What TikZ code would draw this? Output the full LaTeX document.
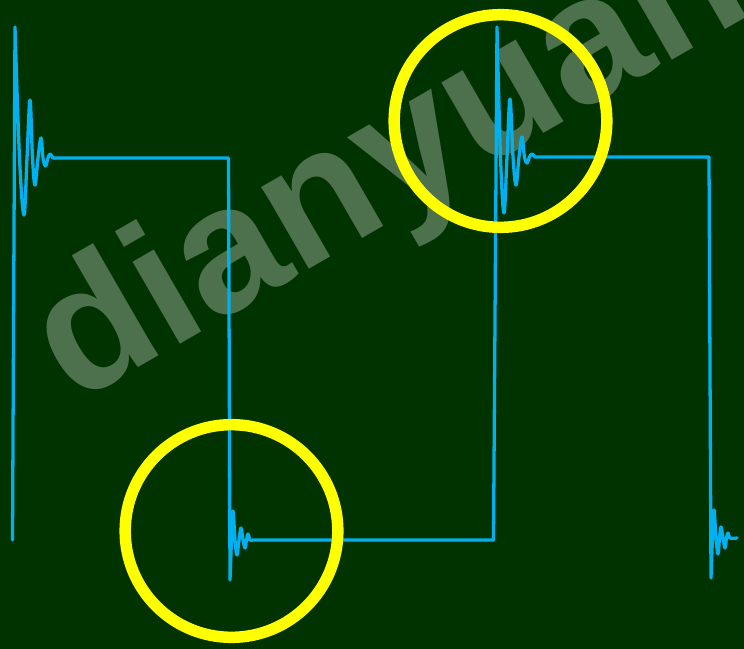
\documentclass[tikz,border=0pt]{standalone}
\usepackage{fontspec}
\setsansfont{Liberation Sans}
\usetikzlibrary{positioning}
\definecolor{bggreen}{RGB}{0,51,0}
\definecolor{scopecyan}{RGB}{0,176,240}
\definecolor{ringyellow}{RGB}{255,255,0}

\begin{document}
\begin{tikzpicture}[x=0.03cm, y=-0.03cm,
    wave/.style={draw=scopecyan, line width=2.8pt, line join=round, line cap=round},
    hilite/.style={draw=ringyellow, line width=9.8pt},
    watermark/.style={text=white, opacity=0.3, inner sep=0pt, rotate=30,
                      font=\sffamily\bfseries\fontsize{153}{153}\selectfont}
  ]
  % Background
  \useasboundingbox (0,0) rectangle (744,649);
  \clip (0,0) rectangle (744,649);
  \fill[bggreen] (0,0) rectangle (744,649);

  % Watermark
  \node[watermark] (wm) at (392,168) {dianyuan};

  % Corners of the square wave
  \coordinate (start) at (12.5,540);
  \coordinate (rise1) at (15,27);
  \coordinate (top1)  at (228.5,158);
  \coordinate (fall1) at (230,580);
  \coordinate (low1)  at (493.5,540);
  \coordinate (rise2) at (497,27);
  \coordinate (top2)  at (709,157);
  \coordinate (fall2) at (711,578);

  % Square wave with ringing on every edge
  \draw[wave] (start) -- (rise1)
    -- plot[smooth, tension=0.6] coordinates {(15,27) (19.5,158) (24,215) (27,158) (30,100)
       (32.5,158) (35,185) (38,158) (41,138) (43,158) (45.5,166) (48,158) (50,154) (53,158)}
    -- (top1) -- (fall1)
    -- plot[smooth, tension=0.6] coordinates {(230,580) (231.5,540) (233,511) (235,540) (237,555)
       (239,540) (241,528) (243,540) (245,548) (246.5,540) (248,534) (250,540) (253,540)}
    -- (low1) -- (rise2)
    -- plot[smooth, tension=0.6] coordinates {(497,27) (500.5,157) (504,213) (507,157) (510,99)
       (513,157) (516,185) (519,157) (522,137) (524.5,157) (527,163) (529.5,157) (532,154) (535,157)}
    -- (top2) -- (fall2)
    -- plot[smooth, tension=0.6] coordinates {(711,578) (712.5,538) (714,510) (716,538) (718,554)
       (719.5,538) (721,527) (723,538) (725,548) (726.5,538) (728,533) (730,538) (737,538)};

  % Highlight rings
  \coordinate (ringtop) at (500.5,121);
  \coordinate (ringbot) at (231.5,531);
  \draw[hilite] (ringtop) circle[radius=3.19cm];
  \draw[hilite] (ringbot) circle[radius=3.19cm];
\end{tikzpicture}
\end{document}
